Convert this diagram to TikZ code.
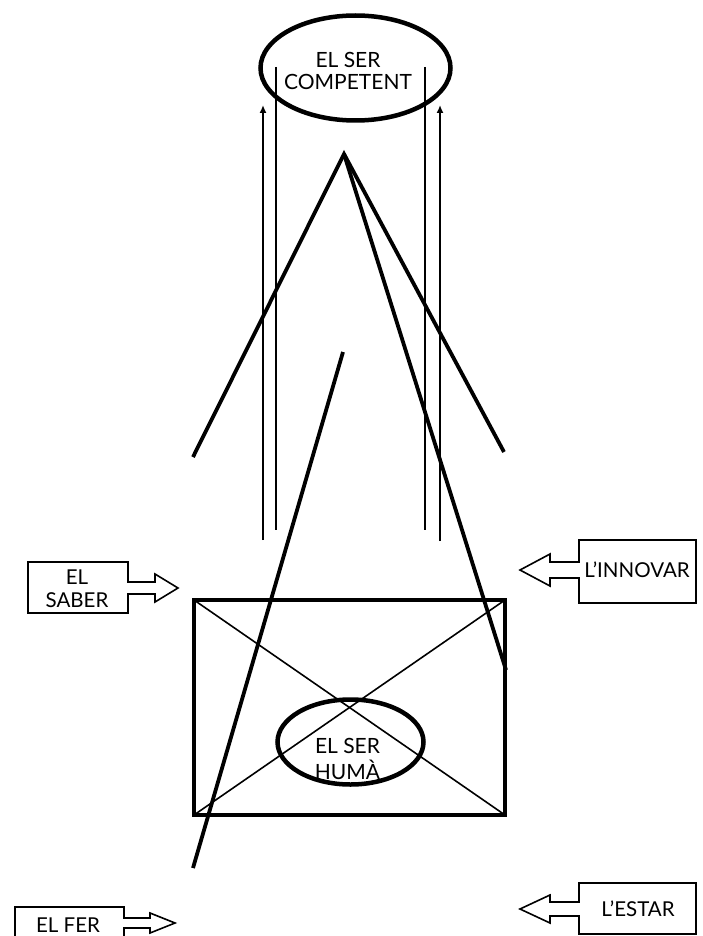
\documentclass[tikz,border=0pt]{standalone}
\usepackage{fontspec}
\setmainfont{Lato}
\usetikzlibrary{shapes.geometric,arrows.meta}
\tikzset{
  lbl/.style={align=center,inner sep=0pt,font=\fontsize{20.5}{23}\selectfont},
  toplbl/.style={align=center,inner sep=0pt,font=\fontsize{21}{22.5}\selectfont},
  humlbl/.style={align=center,inner sep=0pt,font=\fontsize{21}{26}\selectfont},
  bigell/.style={ellipse,draw,line width=4.5pt,inner sep=0pt},
  thinv/.style={line width=1.8pt},
  upar/.style={line width=1.8pt,-{Latex[length=8pt,width=7pt]}},
  ray/.style={line width=3.8pt},
  frame/.style={line width=4.5pt},
  diag/.style={line width=1.6pt},
  callout/.style={line width=1.6pt,line join=miter},
}
\begin{document}
\begin{tikzpicture}[x=1pt,y=-1pt]
\useasboundingbox (0,0) rectangle (703,936);
% top ellipse
\node[bigell,minimum width=190pt,minimum height=105pt] (comp) at (355.5,68) {};
\node[toplbl] (comptxt) at (348,71) {EL SER\\COMPETENT};
% vertical lines and arrows
\coordinate (la0) at (263,540); \coordinate (la1) at (263,105);
\coordinate (lt0) at (276,67);  \coordinate (lt1) at (276,530);
\coordinate (rt0) at (425,67);  \coordinate (rt1) at (425,530);
\coordinate (ra0) at (440,541); \coordinate (ra1) at (440,105);
\draw[upar] (la0) -- (la1);
\draw[thinv] (lt0) -- (lt1);
\draw[thinv] (rt0) -- (rt1);
\draw[upar] (ra0) -- (ra1);
% rays from apex
\coordinate (apex) at (344,154);
\coordinate (rl) at (193,457);
\coordinate (rr) at (504,452);
\coordinate (rlong) at (506,670);
\coordinate (s0) at (343,352);
\coordinate (s1) at (193,868);
\draw[ray] (rl) -- (apex) -- (rr);
\draw[ray] (apex) -- (rlong);
\draw[ray] (s0) -- (s1);
% rectangle with diagonals
\coordinate (tl) at (194,600); \coordinate (tr) at (505,600);
\coordinate (bl) at (194,815); \coordinate (br) at (505,815);
\draw[diag] (tl) -- (br);
\draw[diag] (tr) -- (bl);
\draw[frame] (tl) rectangle (br);
% inner ellipse
\node[bigell,minimum width=146pt,minimum height=85pt] (huma) at (350.5,742) {};
\node[humlbl] (humatxt) at (347.5,759) {EL SER\\HUMÀ};
% callouts
\draw[callout] (28,562) -- (128,562) -- (128,582) -- (155,582) -- (155,574) -- (178,588)
  -- (155,602) -- (155,594) -- (128,594) -- (128,613) -- (28,613) -- cycle;
\node[lbl] (saber) at (77,589) {EL\\SABER};
\draw[callout] (579,540) -- (696,540) -- (696,603) -- (579,603) -- (579,578) -- (550,578)
  -- (550,586) -- (520,570) -- (550,554) -- (550,562) -- (579,562) -- cycle;
\node[lbl] (innovar) at (637,570) {L’INNOVAR};
\draw[callout] (15,945) -- (15,907) -- (124,907) -- (124,918) -- (150,918) -- (150,913)
  -- (175,923) -- (150,933) -- (150,928) -- (124,928) -- (124,945);
\node[lbl] (fer) at (68,925) {EL FER};
\draw[callout] (579,883) -- (696,883) -- (696,934) -- (579,934) -- (579,916) -- (550,916)
  -- (550,923) -- (520,909) -- (550,895) -- (550,902) -- (579,902) -- cycle;
\node[lbl] (estar) at (638,909) {L’ESTAR};
\end{tikzpicture}
\end{document}
